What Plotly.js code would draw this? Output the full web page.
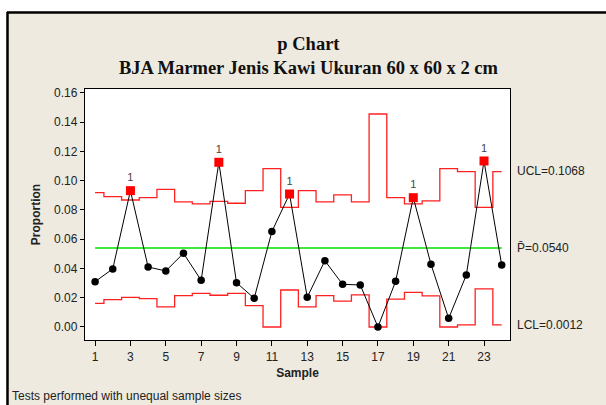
<!DOCTYPE html>
<html>
<head>
<meta charset="utf-8">
<script src="https://cdn.plot.ly/plotly-3.0.1.min.js"></script>
<style>html,body{margin:0;padding:0;background:#fff;}#chart{width:606px;height:405px;}</style>
</head>
<body>
<div id="chart"></div>
<script>
// ---- data ----
const samples = [1,2,3,4,5,6,7,8,9,10,11,12,13,14,15,16,17,18,19,20,21,22,23,24];
const proportion = [0.0310,0.0397,0.0932,0.0410,0.0383,0.0504,0.0319,0.1126,0.0303,0.0196,0.0652,0.0909,
                    0.0203,0.0453,0.0292,0.0287,0.0000,0.0312,0.0884,0.0429,0.0059,0.0356,0.1135,0.0424];
const ucl = [0.0918,0.0891,0.0868,0.0884,0.0941,0.0855,0.0841,0.0859,0.0846,0.0932,0.1082,0.0818,
             0.0932,0.0855,0.0903,0.0855,0.1456,0.0884,0.0841,0.0862,0.1082,0.1062,0.0818,0.1062];
const lcl = [0.0162,0.0187,0.0203,0.0194,0.0137,0.0214,0.0230,0.0217,0.0230,0.0146,0.0000,0.0253,
             0.0137,0.0214,0.0177,0.0219,0.0000,0.0190,0.0237,0.0212,0.0000,0.0015,0.0260,0.0015];
const pBar = 0.0540;
const uclLabelValue = 0.1068;
const lclLabelValue = 0.0012;
const flaggedSamples = [3,8,12,19,23];
const yTickVals = [0,0.02,0.04,0.06,0.08,0.10,0.12,0.14,0.16];
const xTickVals = [1,3,5,7,9,11,13,15,17,19,21,23];

const flaggedP = flaggedSamples.map(s => proportion[samples.indexOf(s)]);
const centerX = [samples[0], samples[samples.length-1]];
const centerY = [pBar, pBar];

const sans = 'Liberation Sans, Arial, sans-serif';
const narrow = 'Liberation Sans Narrow, Liberation Sans, Arial, sans-serif';

const traces = [
  {x: samples, y: ucl, mode:'lines', line:{shape:'hvh', color:'#ff2020', width:1.3}, hoverinfo:'skip'},
  {x: samples, y: lcl, mode:'lines', line:{shape:'hvh', color:'#ff2020', width:1.3}, hoverinfo:'skip'},
  {x: centerX, y: centerY, mode:'lines', line:{color:'#00e000', width:1.3}, hoverinfo:'skip'},
  {x: samples, y: proportion, mode:'lines+markers', line:{color:'black', width:1},
   marker:{symbol:'circle', size:7.5, color:'black'}},
  {x: flaggedSamples, y: flaggedP, mode:'markers+text', text: flaggedSamples.map(()=> '1'),
   textposition:'top center', textfont:{family:sans, size:11, color:'#444444'},
   marker:{symbol:'square', size:9, color:'#ff0000', line:{width:0}}}
];

const W=606, H=405, L=85, R=96, T=89, B=65;
const pw = W-L-R, ph = H-T-B;
const px = v => (v - L)/pw;
const py = v => (H - B - v)/ph;

const layout = {
  width: W, height: H,
  margin:{l:L, r:R, t:T, b:B, pad:0},
  paper_bgcolor:'#eeeae0',
  plot_bgcolor:'#ffffff',
  showlegend:false,
  font:{family:sans, size:12, color:'#222'},
  xaxis:{
    range:[0.43, 24.47], tickvals:xTickVals, ticks:'outside', ticklen:5, tickcolor:'#000',
    showgrid:false, zeroline:false, showline:true, linecolor:'#000', linewidth:1.2, mirror:true,
    tickfont:{family:narrow, size:12, color:'#222'},
    title:{text:'<b>Sample</b>', font:{family:narrow, size:12, color:'#222'}, standoff:6}
  },
  yaxis:{
    range:[-0.0089, 0.1627], tickvals:yTickVals, tickformat:'.2f', ticks:'outside', ticklen:4, tickcolor:'#000',
    showgrid:false, zeroline:false, showline:true, linecolor:'#000', linewidth:1.2, mirror:true,
    tickfont:{family:sans, size:12, color:'#222'},
    title:{text:'<b>Proportion</b>', font:{family:sans, size:12, color:'#222'}, standoff:10}
  },
  shapes:[
    {type:'rect', xref:'paper', yref:'paper', x0:-1, x1:2, y0:py(11), y1:2, fillcolor:'#ffffff', line:{width:0}, layer:'below'},
    {type:'rect', xref:'paper', yref:'paper', x0:-1, x1:px(6), y0:-1, y1:2, fillcolor:'#ffffff', line:{width:0}, layer:'below'},
    {type:'line', xref:'paper', yref:'paper', x0:px(7), x1:2, y0:py(12.5), y1:py(12.5), line:{color:'#000', width:2.5}},
    {type:'line', xref:'paper', yref:'paper', x0:px(7.5), x1:px(7.5), y0:-1, y1:py(12), line:{color:'#000', width:2.5}}
  ],
  annotations:[
    {xref:'paper', yref:'paper', x:px(308), y:py(56), xanchor:'center', yanchor:'middle', showarrow:false,
     text:'<b>p Chart</b><br><b>BJA Marmer Jenis Kawi Ukuran 60 x 60 x 2 cm</b>',
     font:{family:'Liberation Serif, Times New Roman, serif', size:18.5, color:'#111'}},
    {xref:'paper', yref:'y', x:px(515), y:uclLabelValue, xanchor:'left', yanchor:'middle', showarrow:false,
     text:'UCL=' + uclLabelValue.toFixed(4), font:{family:sans, size:12, color:'#222'}},
    {xref:'paper', yref:'y', x:px(515), y:pBar, xanchor:'left', yanchor:'middle', showarrow:false,
     text:'P\u0304=' + pBar.toFixed(4), font:{family:sans, size:12, color:'#222'}},
    {xref:'paper', yref:'y', x:px(515), y:lclLabelValue, xanchor:'left', yanchor:'middle', showarrow:false,
     text:'LCL=' + lclLabelValue.toFixed(4), font:{family:sans, size:12, color:'#222'}},
    {xref:'paper', yref:'paper', x:px(10), y:py(396), xanchor:'left', yanchor:'middle', showarrow:false,
     text:'Tests performed with unequal sample sizes', font:{family:sans, size:12, color:'#222'}}
  ]
};

Plotly.newPlot('chart', traces, layout, {displayModeBar:false, staticPlot:true});
</script>
</body>
</html>
